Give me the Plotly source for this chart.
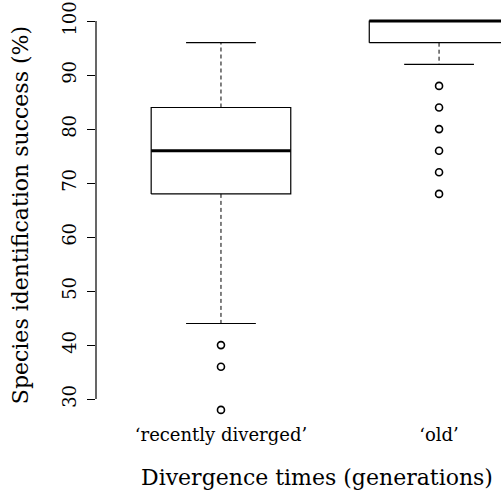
import plotly.graph_objects as go

# Summary statistics of species identification success (%) per divergence class
groups = ["‘recently diverged’", "‘old’"]
positions = [1, 2]
lower_whisker = [44, 92]
q1 = [68, 96]
median = [76, 100]
q3 = [84, 100]
upper_whisker = [96, 100]
outliers = [[40, 36, 28], [88, 84, 80, 76, 72, 68]]
y_ticks = [30, 40, 50, 60, 70, 80, 90, 100]

BOX_HALF = 0.32
CAP_HALF = 0.16
FONT = "DejaVu Serif"

fig = go.Figure()

for i, c in enumerate(positions):
    # box outline
    fig.add_trace(go.Scatter(
        x=[c - BOX_HALF, c + BOX_HALF, c + BOX_HALF, c - BOX_HALF, c - BOX_HALF],
        y=[q1[i], q1[i], q3[i], q3[i], q1[i]],
        mode="lines", line=dict(color="black", width=1.2),
        hoverinfo="skip", showlegend=False))
    # dashed whiskers
    fig.add_trace(go.Scatter(
        x=[c, c, None, c, c],
        y=[q3[i], upper_whisker[i], None, q1[i], lower_whisker[i]],
        mode="lines", line=dict(color="black", width=1, dash="4px,3px"),
        hoverinfo="skip", showlegend=False))
    # whisker caps
    fig.add_trace(go.Scatter(
        x=[c - CAP_HALF, c + CAP_HALF, None, c - CAP_HALF, c + CAP_HALF],
        y=[upper_whisker[i], upper_whisker[i], None, lower_whisker[i], lower_whisker[i]],
        mode="lines", line=dict(color="black", width=1.2),
        hoverinfo="skip", showlegend=False))
    # median
    fig.add_trace(go.Scatter(
        x=[c - BOX_HALF, c + BOX_HALF], y=[median[i], median[i]],
        mode="lines", line=dict(color="black", width=3),
        hoverinfo="skip", showlegend=False))
    # outliers
    fig.add_trace(go.Scatter(
        x=[c] * len(outliers[i]), y=outliers[i], mode="markers",
        marker=dict(symbol="circle-open", size=7, color="black",
                    line=dict(width=1.6, color="black")),
        cliponaxis=False, hoverinfo="skip", showlegend=False))

# y axis line spans only the tick range
fig.add_shape(type="line", xref="paper", yref="y", x0=0, x1=0,
              y0=min(y_ticks), y1=max(y_ticks),
              line=dict(color="black", width=1.2))

fig.update_layout(
    width=501, height=498,
    margin=dict(l=96, r=0, t=13, b=80),
    plot_bgcolor="white", paper_bgcolor="white",
    font=dict(family=FONT, color="black"),
    xaxis=dict(range=[0.427, 2.284], tickvals=positions, ticktext=groups,
               showline=False, showgrid=False, zeroline=False, ticks="",
               tickfont=dict(size=18, family=FONT), ticklabelstandoff=4),
    yaxis=dict(range=[26.5, 101.5], tickvals=y_ticks, ticks="outside",
               ticklen=8, tickwidth=1.2, tickcolor="black",
               showline=False, showgrid=False, zeroline=False,
               tickangle=-90, tickfont=dict(size=18, family=FONT),
               ticklabelstandoff=4),
    annotations=[
        dict(text="Species identification success (%)", xref="paper", yref="paper",
             x=-0.186, y=0.5, xanchor="center", yanchor="middle", textangle=-90,
             showarrow=False, font=dict(size=22, family=FONT)),
        dict(text="Divergence times (generations)", xref="paper", yref="paper",
             x=0.546, y=-0.148, xanchor="center", yanchor="middle",
             showarrow=False, font=dict(size=22, family=FONT)),
    ],
)

fig.write_html("out.html")
